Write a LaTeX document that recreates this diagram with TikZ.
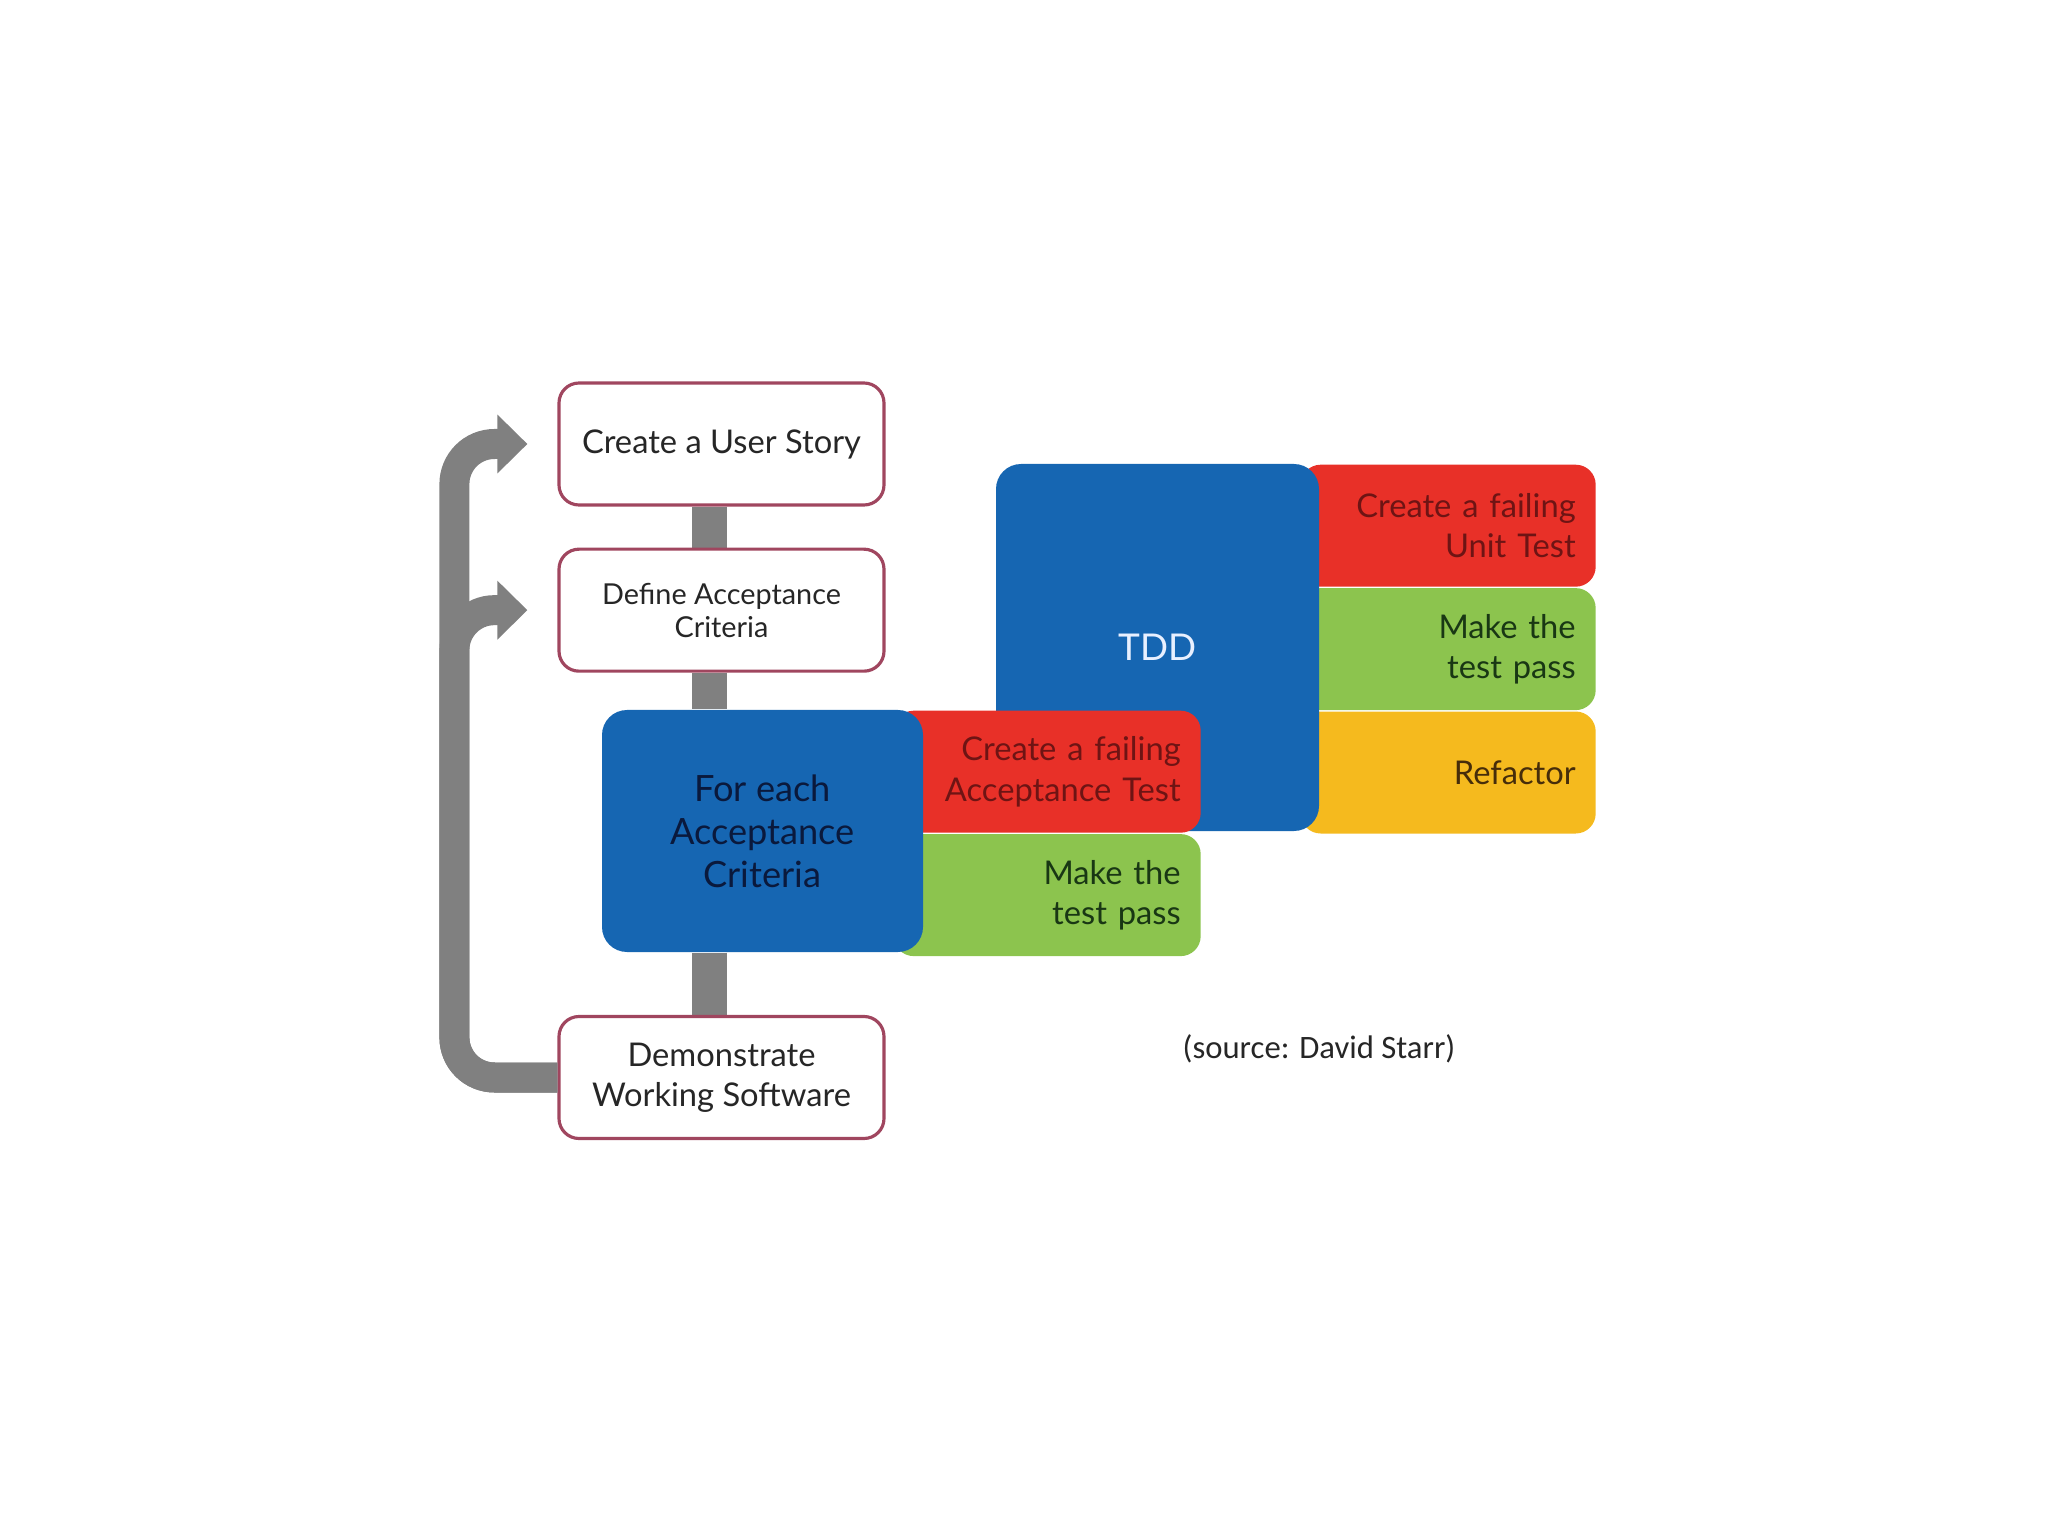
\documentclass[tikz,border=0pt]{standalone}
\usepackage{fontspec}
\setmainfont{Lato}
\newfontfamily\sourcefont{Carlito}
\usetikzlibrary{arrows.meta, positioning, backgrounds}
\definecolor{tddblue}{RGB}{22, 102, 178}
\definecolor{failred}{RGB}{232, 48, 40}
\definecolor{passgreen}{RGB}{140, 196, 78}
\definecolor{refyellow}{RGB}{245, 186, 30}
\definecolor{boxedge}{RGB}{160, 70, 95}
\definecolor{loopgray}{RGB}{128, 128, 128}
\definecolor{darkred}{RGB}{110, 20, 20}
\definecolor{darkgreen}{RGB}{25, 55, 20}
\definecolor{darkbrown}{RGB}{70, 45, 10}
\definecolor{darknavy}{RGB}{10, 25, 60}
\definecolor{tddtext}{RGB}{232, 240, 255}

\begin{document}
\begin{tikzpicture}[
    font=\fontsize{9.3}{11.5}\selectfont,
    stepbox/.style={draw=boxedge, line width=0.9pt, fill=white, text=black!85, rounded corners=2mm, align=center, minimum width=3.25cm, minimum height=1.22cm},
    block/.style={fill=tddblue, rounded corners=2.5mm, align=center},
    stripe/.style={rounded corners=2mm, align=right, inner xsep=2mm, minimum height=1.22cm},
    flow/.style={line width=3.5mm, color=loopgray},
    loopline/.style={line width=3mm, color=loopgray, rounded corners=4mm, -{Triangle[length=3mm, width=5.7mm]}}
]
    \useasboundingbox (0,0) rectangle (20.48,-15.36);

    % left column
    \node[stepbox] (story) at (7.215,-4.44) {Create a User Story};
    \node[stepbox, below=0.41cm of story, font=\fontsize{8.2}{9.4}\selectfont] (criteria) {Define Acceptance\\Criteria};
    \node[stepbox] (demo) at (7.215,-10.775) {Demonstrate\\Working Software};

    % TDD block
    \node[stripe, fill=failred, text=darkred, text width=2.55cm, anchor=north west] (unittest) at (13.0,-4.64) {Create a failing\\Unit Test};
    \node[stripe, fill=passgreen, text=darkgreen, text width=2.55cm, below=0cm of unittest] (unitpass) {Make the\\test pass};
    \node[stripe, fill=refyellow, text=darkbrown, text width=2.55cm, below=0cm of unitpass] (refactor) {Refactor};
    \node[block, minimum width=3.23cm, minimum height=3.67cm, text=tddtext, font=\fontsize{10.5}{12}\selectfont] (tdd) at (11.575,-6.475) {TDD};

    % acceptance block
    \node[stripe, fill=failred, text=darkred, text width=2.67cm, anchor=north west] (acctest) at (8.93,-7.10) {Create a failing\\Acceptance Test};
    \node[stripe, fill=passgreen, text=darkgreen, text width=2.67cm, below=0cm of acctest] (accpass) {Make the\\test pass};
    \node[block, minimum width=3.21cm, minimum height=2.42cm, text=darknavy, font=\fontsize{10.3}{12.2}\selectfont] (foreach) at (7.625,-8.31) {For each\\Acceptance\\Criteria};

    \node[font=\sourcefont\fontsize{9.3}{11}\selectfont, text=black!85] (source) at (13.19,-10.49) {(source: David Starr)};

    % connectors
    \begin{scope}[on background layer]
        \draw[flow] ([xshift=-1.2mm]story.south) -- ([xshift=-1.2mm]criteria.north);
        \draw[flow] ([xshift=-1.2mm]criteria.south) -- ([xshift=-1.2mm]criteria.south |- foreach.north);
        \draw[flow] ([xshift=-1.2mm]demo.north |- foreach.south) -- ([xshift=-1.2mm]demo.north);
    \end{scope}
    \draw[loopline] (demo.west) -| ([xshift=-1.03cm]story.west) -- ([xshift=-3mm]story.west);
    \draw[loopline] (demo.west) -| ([xshift=-1.03cm]criteria.west) -- ([xshift=-3mm]criteria.west);
\end{tikzpicture}
\end{document}
